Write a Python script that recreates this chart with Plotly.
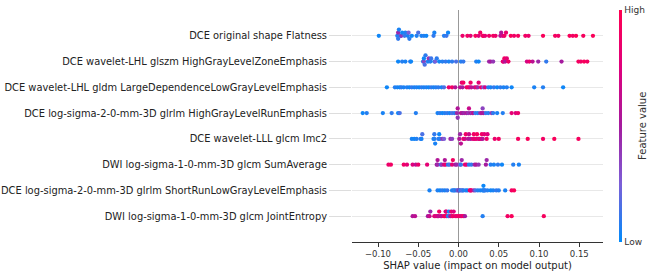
import numpy as np
import plotly.graph_objects as go

# ---------------- data ----------------
feature_names = [
    "DCE original shape Flatness",
    "DCE wavelet-LHL glszm HighGrayLevelZoneEmphasis",
    "DCE wavelet-LHL gldm LargeDependenceLowGrayLevelEmphasis",
    "DCE log-sigma-2-0-mm-3D glrlm HighGrayLevelRunEmphasis",
    "DCE wavelet-LLL glcm Imc2",
    "DWI log-sigma-1-0-mm-3D glcm SumAverage",
    "DCE log-sigma-2-0-mm-3D glrlm ShortRunLowGrayLevelEmphasis",
    "DWI log-sigma-1-0-mm-3D glcm JointEntropy",
]

flatness_shap = [-0.099, -0.076, -0.075, -0.075, -0.074, -0.072, -0.071, -0.070, -0.067, -0.066, -0.063, -0.062,
                 -0.061, -0.058, -0.052, -0.050, -0.046, -0.043, -0.040, -0.031, -0.030, -0.018, -0.015, -0.013,
                 0.005, 0.011, 0.015, 0.021, 0.025, 0.027, 0.030, 0.031, 0.033, 0.038, 0.043, 0.046, 0.052, 0.053,
                 0.055, 0.057, 0.059, 0.065, 0.069, 0.074, 0.083, 0.087, 0.105, 0.120, 0.124, 0.138, 0.142, 0.146,
                 0.155, 0.167]
flatness_feat = [0.03, 0.07, 0.45, 0.10, 0.05, 0.09, 0.40, 0.03, 0.12, 0.07, 0.05, 0.25, 0.09, 0.03, 0.06, 0.15,
                 0.05, 0.07, 0.03, 0.10, 0.05, 0.07, 0.12, 0.03,
                 0.85, 0.90, 0.80, 0.95, 0.75, 0.90, 0.85, 0.95, 0.80, 0.88, 0.92, 0.85, 0.60, 0.55, 0.70, 0.90,
                 0.85, 0.95, 0.88, 0.92, 0.90, 0.85, 0.95, 0.92, 0.88, 0.95, 0.90, 0.97, 0.93, 0.96]

glszm_shap = [-0.075, -0.070, -0.066, -0.060, -0.059, -0.044, -0.043, -0.043, -0.042, -0.041, -0.038, -0.037,
              -0.035, -0.034, -0.030, -0.029, -0.027, -0.024, -0.020, -0.016, -0.012, -0.008, -0.003, 0.003, 0.006,
              0.022, 0.025, 0.038, 0.040, 0.043, 0.055, 0.056, 0.057, 0.058, 0.060, 0.062, 0.085, 0.088, 0.092,
              0.099, 0.109, 0.128, 0.149, 0.152, 0.156, 0.160]
glszm_feat = [0.03, 0.07, 0.05, 0.10, 0.03, 0.07, 0.35, 0.03, 0.15, 0.09, 0.05, 0.40, 0.07, 0.12, 0.05, 0.25,
              0.09, 0.03, 0.07, 0.10, 0.05, 0.09, 0.15, 0.07, 0.10, 0.07, 0.03, 0.45, 0.50, 0.40, 0.85, 0.75,
              0.90, 0.55, 0.80, 0.88, 0.70, 0.85, 0.60, 0.45, 0.10, 0.50, 0.92, 0.88, 0.95, 0.90]

gldm_shap = [-0.089, -0.079, -0.076, -0.073, -0.071, -0.068, -0.064, -0.061, -0.058, -0.055, -0.052, -0.049,
             -0.046, -0.043, -0.040, -0.037, -0.034, -0.031, -0.028, -0.025, -0.021, -0.018, -0.012, -0.008,
             -0.004, 0.002, 0.004, 0.005, 0.006, 0.010, 0.012, 0.014, 0.015, 0.016, 0.020, 0.022, 0.024, 0.025,
             0.028, 0.031, 0.033, 0.037, 0.040, 0.044, 0.048, 0.052, 0.056, 0.060, 0.066, 0.094, 0.105, 0.130]
gldm_feat = [0.03, 0.07, 0.05, 0.02, 0.09, 0.05, 0.07, 0.03, 0.10, 0.05, 0.07, 0.03, 0.09, 0.05, 0.07, 0.03,
             0.10, 0.05, 0.07, 0.09, 0.05, 0.15,
             0.85, 0.90, 0.55, 0.60, 0.80, 0.50, 0.90, 0.85, 0.92, 0.75, 0.88, 0.60, 0.55, 0.90, 0.45, 0.80,
             0.85, 0.25, 0.70, 0.07, 0.05, 0.10, 0.03, 0.09, 0.05, 0.07, 0.03, 0.05, 0.07, 0.03]

glrlm_hgl_shap = [-0.119, -0.114, -0.094, -0.083, -0.075, -0.073, -0.053, -0.026, -0.023, -0.020, -0.017, -0.014,
                  -0.011, -0.008, -0.005, -0.002, -0.001, -0.001, 0.003, 0.005, 0.007, 0.010, 0.012, 0.013, 0.015,
                  0.017, 0.018, 0.021, 0.024, 0.027, 0.029, 0.030, 0.031, 0.034, 0.037, 0.041, 0.043, 0.048,
                  0.055, 0.066, 0.071, 0.074]
glrlm_hgl_feat = [0.03, 0.07, 0.05, 0.09, 0.03, 0.15, 0.07, 0.05, 0.09, 0.03, 0.07, 0.10, 0.05, 0.15, 0.09,
                  0.45, 0.55, 0.40, 0.60, 0.50, 0.45, 0.55, 0.40, 0.65, 0.50, 0.35, 0.60, 0.10, 0.07, 0.45,
                  0.55, 0.35, 0.50, 0.10, 0.07, 0.40, 0.09, 0.05, 0.07, 0.80, 0.75, 0.85]

imc2_shap = [-0.058, -0.055, -0.052, -0.047, -0.046, -0.045, -0.031, -0.030, -0.030, -0.029, -0.025, -0.024,
             -0.023, -0.020, -0.018, -0.010, -0.008, 0.001, 0.002, 0.003, 0.006, 0.008, 0.009, 0.012, 0.013,
             0.015, 0.018, 0.019, 0.020, 0.022, 0.023, 0.025, 0.026, 0.028, 0.029, 0.030, 0.032, 0.035, 0.036,
             0.045, 0.050, 0.074, 0.086, 0.105, 0.119, 0.149]
imc2_feat = [0.05, 0.03, 0.07, 0.09, 0.05, 0.15, 0.03, 0.07, 0.10, 0.05, 0.09, 0.03, 0.07, 0.40, 0.25, 0.45,
             0.35, 0.55, 0.45, 0.60, 0.85, 0.70, 0.90, 0.55, 0.65, 0.50, 0.80, 0.90, 0.75, 0.85, 0.92, 0.60,
             0.85, 0.70, 0.90, 0.55, 0.80, 0.88, 0.75, 0.85, 0.90, 0.92, 0.95, 0.90, 0.95, 0.93]

sumavg_shap = [-0.087, -0.084, -0.068, -0.064, -0.057, -0.053, -0.050, -0.039, -0.027, -0.026, -0.026, -0.022,
               -0.021, -0.018, -0.017, -0.016, -0.013, -0.011, -0.008, -0.007, -0.004, -0.002, 0.002, 0.003,
               0.004, 0.008, 0.010, 0.013, 0.016, 0.020, 0.022, 0.025, 0.034, 0.035, 0.040, 0.044, 0.049, 0.054,
               0.068, 0.075]
sumavg_feat = [0.85, 0.90, 0.88, 0.80, 0.75, 0.60, 0.85, 0.80, 0.50, 0.45, 0.55, 0.10, 0.40, 0.70, 0.55, 0.85,
               0.07, 0.15, 0.80, 0.90, 0.50, 0.45, 0.25, 0.10, 0.45, 0.85, 0.75, 0.07, 0.10, 0.45, 0.55, 0.40,
               0.50, 0.45, 0.07, 0.05, 0.09, 0.03, 0.07, 0.05]

glrlm_srl_shap = [-0.036, -0.026, -0.023, -0.020, -0.017, -0.014, -0.008, -0.006, -0.005, -0.003, -0.001, 0.000,
                  0.001, 0.002, 0.004, 0.005, 0.006, 0.009, 0.011, 0.014, 0.015, 0.016, 0.019, 0.021, 0.024,
                  0.027, 0.030, 0.031, 0.031, 0.032, 0.033, 0.036, 0.040, 0.043, 0.047, 0.050, 0.058, 0.066,
                  0.069]
glrlm_srl_feat = [0.05, 0.07, 0.03, 0.09, 0.05, 0.10, 0.07, 0.03, 0.12, 0.05, 0.40, 0.07, 0.50, 0.10, 0.05,
                  0.25, 0.07, 0.09, 0.03, 0.85, 0.90, 0.80, 0.45, 0.15, 0.07, 0.05, 0.03, 0.07, 0.02, 0.05,
                  0.09, 0.07, 0.03, 0.05, 0.10, 0.07, 0.05, 0.90, 0.95]

entropy_shap = [-0.057, -0.054, -0.038, -0.036, -0.035, -0.030, -0.028, -0.026, -0.025, -0.024, -0.022, -0.021,
                -0.018, -0.017, -0.016, -0.015, -0.015, -0.013, -0.012, -0.012, -0.010, -0.009, -0.008, -0.007,
                -0.006, -0.004, -0.002, 0.000, 0.002, 0.004, 0.006, 0.008, 0.030, 0.061, 0.066, 0.106]
entropy_feat = [0.55, 0.60, 0.50, 0.65, 0.45, 0.80, 0.70, 0.85, 0.60, 0.90, 0.75, 0.55, 0.85, 0.90, 0.70, 0.95,
                0.80, 0.07, 0.10, 0.05, 0.65, 0.85, 0.55, 0.90, 0.75, 0.85, 0.80, 0.90, 0.88, 0.75, 0.92, 0.50,
                0.07, 0.90, 0.95, 0.93]

x_ticks = [-0.10, -0.05, 0.00, 0.05, 0.10, 0.15]

rows_shap = [flatness_shap, glszm_shap, gldm_shap, glrlm_hgl_shap, imc2_shap, sumavg_shap, glrlm_srl_shap, entropy_shap]
rows_feat = [flatness_feat, glszm_feat, gldm_feat, glrlm_hgl_feat, imc2_feat, sumavg_feat, glrlm_srl_feat, entropy_feat]

# SHAP red_blue colormap (LCH interpolation)
red_blue = [
    [0.00, "rgb(0,139,251)"],
    [0.25, "rgb(124,95,215)"],
    [0.50, "rgb(165,26,158)"],
    [0.75, "rgb(223,0,125)"],
    [1.00, "rgb(255,0,81)"],
]


def swarm_offsets(vals, row_height=0.4, nbins=100):
    v = np.asarray(vals, dtype=float)
    quant = np.round(nbins * (v - v.min()) / (v.max() - v.min() + 1e-8))
    inds = np.argsort(quant, kind="stable")
    ys = np.zeros(len(v))
    layer = 0
    last_bin = -1
    for ind in inds:
        if quant[ind] != last_bin:
            layer = 0
        ys[ind] = np.ceil(layer / 2) * ((layer % 2) * 2 - 1)
        layer += 1
        last_bin = quant[ind]
    ys *= 0.9 * (row_height / np.max(ys + 1))
    return ys


n = len(feature_names)
fig = go.Figure()
for i, (sv, fv) in enumerate(zip(rows_shap, rows_feat)):
    assert len(sv) == len(fv)
    pos = n - 1 - i
    ys = pos + swarm_offsets(sv)
    fig.add_trace(go.Scatter(
        x=sv, y=ys, mode="markers", hoverinfo="skip", showlegend=False,
        marker=dict(size=4.3, color=fv, colorscale=red_blue, cmin=0, cmax=1,
                    line=dict(width=0), showscale=(i == 0),
                    colorbar=dict(x=1.064, xanchor="left", xpad=0, y=0.5, yanchor="middle", ypad=0,
                                  len=1, lenmode="fraction", thickness=3, outlinewidth=0,
                                  tickvals=[0, 1], ticktext=["Low", "High"], ticks="",
                                  tickfont=dict(size=9, color="#333333"))),
    ))

fig.update_layout(
    width=656, height=277,
    margin=dict(l=352, r=53, t=10, b=35, autoexpand=False),
    paper_bgcolor="white", plot_bgcolor="white",
    font=dict(family="DejaVu Sans", color="#222222"),
    annotations=[dict(text="Feature value", x=1.185, y=0.5, xref="paper", yref="paper",
                      textangle=-90, showarrow=False, font=dict(size=10, color="#333333"))],
)
fig.update_xaxes(
    range=[-0.1323, 0.1795], tickvals=x_ticks, tickformat=".2f",
    ticks="outside", ticklen=4, tickwidth=1, tickcolor="#333333",
    showline=True, linecolor="#333333", linewidth=1, showgrid=False,
    zeroline=True, zerolinecolor="#999999", zerolinewidth=1,
    tickfont=dict(size=8.5, color="#333333"), automargin=False,
    title=dict(text="SHAP value (impact on model output)", font=dict(size=10, color="#222222"), standoff=3),
)
fig.update_yaxes(
    range=[-1, n], tickvals=list(range(n - 1, -1, -1)), ticktext=feature_names,
    ticks="outside", ticklen=22, tickwidth=0.5, tickcolor="#dddddd", automargin=False,
    showline=False, zeroline=False, showgrid=True, gridcolor="#e8e8e8", gridwidth=1,
    tickfont=dict(size=9.9, color="#222222"),
)

fig.write_html("out.html", config={"displayModeBar": False},
               post_script="document.body.style.margin='0';")
